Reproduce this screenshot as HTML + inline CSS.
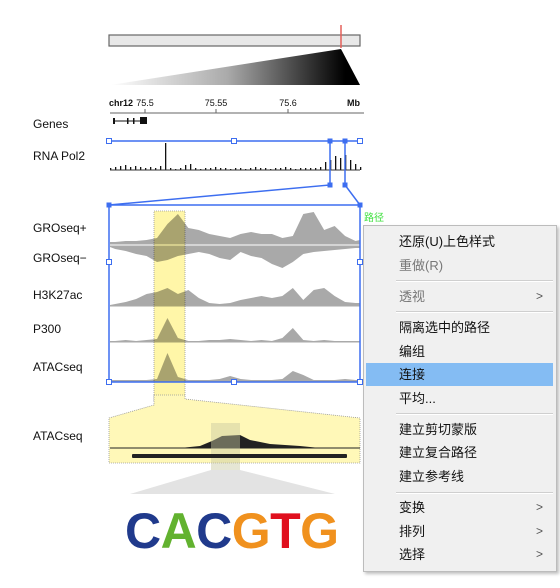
<!DOCTYPE html>
<html><head><meta charset="utf-8"><style>
body{margin:0;width:560px;height:588px;background:#fff;overflow:hidden;position:relative;font-family:"Liberation Sans","Noto Sans CJK SC",sans-serif}
svg{position:absolute;left:0;top:0}
.menu{position:absolute;left:363px;top:225px;width:192px;height:345px;background:#f0f0f0;border:1px solid #bcbcbc;box-shadow:2px 2px 3px rgba(0,0,0,.25);font-size:13px;font-family:"Liberation Sans","Noto Sans CJK SC",sans-serif}
.it{position:absolute;left:0;width:189px;height:23px;line-height:23px;padding-left:35px;box-sizing:border-box;color:#111}
.it.dis{color:#777}
.it.hl{background:#84bcf3;left:2px;width:187px;padding-left:33px}
.sep{position:absolute;left:32px;width:157px;height:1px;background:#cfcfcf;border-bottom:1px solid #fff}
.arr{position:absolute;right:10px;top:0;color:#555;font-size:12px}
</style></head><body>
<svg id="chart" width="560" height="588">
<defs>
<linearGradient id="tri" x1="110" y1="0" x2="345" y2="0" gradientUnits="userSpaceOnUse"><stop offset="0" stop-color="#fff"/><stop offset="0.5" stop-color="#aaa"/><stop offset="1" stop-color="#000"/></linearGradient>
</defs>
<rect x="109" y="35" width="251" height="11" fill="#e8e8e8" stroke="#666" stroke-width="1.2"/>
<line x1="341" y1="25" x2="341" y2="48" stroke="#e4605a" stroke-width="1.5"/>
<polygon points="341,49 110,85 360,85" fill="url(#tri)"/>
<g font-size="9" font-weight="bold" fill="#111">
<text x="109" y="106">chr12</text>
<text x="145" y="106" text-anchor="middle" font-weight="normal">75.5</text>
<text x="216" y="106" text-anchor="middle" font-weight="normal">75.55</text>
<text x="288" y="106" text-anchor="middle" font-weight="normal">75.6</text>
<text x="347" y="106">Mb</text>
<line x1="110" y1="113" x2="364" y2="113" stroke="#666"/>
<line x1="145" y1="109" x2="145" y2="113" stroke="#666"/>
<line x1="216" y1="109" x2="216" y2="113" stroke="#666"/>
<line x1="288" y1="109" x2="288" y2="113" stroke="#666"/>
</g>
<g>
<line x1="114" y1="121" x2="140" y2="121" stroke="#111"/>
<rect x="113" y="118" width="2" height="6" fill="#111"/><rect x="127" y="118" width="1.5" height="6" fill="#111"/><rect x="133" y="118" width="1.5" height="6" fill="#111"/><rect x="140" y="117" width="7" height="7" fill="#111"/>
</g>
<g font-size="12" fill="#111">
<text x="33" y="128">Genes</text><text x="33" y="160">RNA Pol2</text><text x="33" y="232">GROseq+</text><text x="33" y="262">GROseq−</text><text x="33" y="299">H3K27ac</text><text x="33" y="333">P300</text><text x="33" y="371">ATACseq</text><text x="33" y="440">ATACseq</text>
</g>
<g id="tracks"></g>
<rect x="154" y="211" width="31" height="190" fill="#fff6a8" style="mix-blend-mode:multiply" stroke="#999" stroke-dasharray="1,1" stroke-width=".8"/>
<polygon points="154,395 185,395 185,399 360,418 360,463 109,463 109,418 154,405" fill="#fff8b8" stroke="#999" stroke-dasharray="1,1" stroke-width=".8"/>
<line x1="110" y1="448" x2="360" y2="448" stroke="#222" stroke-width="1"/>
<polygon points="180,448 200,446 212,441 222,436 240,435 250,440 270,444 300,446 320,448" fill="#222"/>
<rect x="211" y="423" width="29" height="47" fill="#c8c8a0" fill-opacity=".45"/>
<rect x="132" y="454" width="215" height="4" rx="1" fill="#222"/>
<polygon points="211,470 240,470 335,494 130,494" fill="#e3e3e3"/>
<text x="125" y="548" font-size="50" font-weight="bold" textLength="214"><tspan fill="#203a8c">C</tspan><tspan fill="#62b22f">A</tspan><tspan fill="#203a8c">C</tspan><tspan fill="#f0911e">G</tspan><tspan fill="#e0101e">T</tspan><tspan fill="#f0911e">G</tspan></text>
<g stroke="#3d6ef0" stroke-width="1.5" fill="none">
<polyline points="109,141 330,141 330,185 109,205"/>
<polyline points="330,141 360,141"/>
<polyline points="345,141 345,185 360,205"/>
<rect x="109" y="205" width="251" height="177"/>
</g>
<g fill="#fff" stroke="#3d6ef0" stroke-width="1">
<rect x="106.5" y="138.5" width="5" height="5"/><rect x="231.5" y="138.5" width="5" height="5"/><rect x="357.5" y="138.5" width="5" height="5"/>
<rect x="106.5" y="259.5" width="5" height="5"/><rect x="357.5" y="259.5" width="5" height="5"/>
<rect x="106.5" y="379.5" width="5" height="5"/><rect x="231.5" y="379.5" width="5" height="5"/><rect x="357.5" y="379.5" width="5" height="5"/>
<g fill="#3d6ef0"><rect x="328" y="139" width="4" height="4"/><rect x="343" y="139" width="4" height="4"/><rect x="328" y="183" width="4" height="4"/><rect x="343" y="183" width="4" height="4"/><rect x="107" y="203" width="4" height="4"/><rect x="358" y="203" width="4" height="4"/></g>
</g>
<text x="364" y="221" font-size="10" fill="#3ee03e">路径</text>
</svg>
<div class="menu">
<div class="it" style="top:4px">还原(U)上色样式</div>
<div class="it dis" style="top:28px">重做(R)</div>
<div class="sep" style="top:54px"></div>
<div class="it dis" style="top:59px">透视<span class="arr">&gt;</span></div>
<div class="sep" style="top:85px"></div>
<div class="it" style="top:90px">隔离选中的路径</div>
<div class="it" style="top:114px">编组</div>
<div class="it hl" style="top:137px">连接</div>
<div class="it" style="top:161px">平均...</div>
<div class="sep" style="top:187px"></div>
<div class="it" style="top:192px">建立剪切蒙版</div>
<div class="it" style="top:215px">建立复合路径</div>
<div class="it" style="top:239px">建立参考线</div>
<div class="sep" style="top:266px"></div>
<div class="it" style="top:270px">变换<span class="arr">&gt;</span></div>
<div class="it" style="top:294px">排列<span class="arr">&gt;</span></div>
<div class="it" style="top:317px">选择<span class="arr">&gt;</span></div>
</div>
<script>
const positionsMb = [75.4925,75.4960,75.5030,75.5100,75.5170,75.5240,75.5310,75.5380,75.5450,75.5520,75.5590,75.5660,75.5730,75.5800,75.5870,75.5940,75.6010,75.6080,75.6150,75.6220,75.6290,75.6360,75.6430,75.6500,75.6570,75.6600];
const groPlus = [2,2,3,3,4,6,20,30,16,14,10,8,6,10,12,10,10,6,8,30,32,14,18,8,3,4];
const groMinus = [1,3,5,8,10,16,14,10,8,6,8,12,14,6,10,12,18,22,16,8,6,5,4,3,2,2];
const h3k27ac = [1,2,4,7,12,14,18,12,16,8,3,2,3,6,8,10,8,10,18,6,16,18,10,4,3,3];
const p300 = [1,1,2,1,2,3,24,4,1,1,2,2,3,2,1,2,1,4,14,2,1,2,1,1,1,1];
const atac = [1,1,1,1,1,2,28,4,1,1,1,2,5,2,1,1,1,2,10,6,1,1,1,2,1,1];
const pol2 = [2,3,4,5,3,4,3,2,3,2,4,27,2,1,2,5,6,2,1,2,2,3,2,2,1,2,2,1,2,3,2,2,1,2,2,3,2,1,2,2,2,2,3,8,10,14,12,15,10,6,3];
function xScale(mb){return 110+(mb-75.4925)/(75.66-75.4925)*250;}
const NS='http://www.w3.org/2000/svg';
const g=document.getElementById('tracks');
function area(vals,base,dir,name,fill){
  const p=document.createElementNS(NS,'polygon');
  let pts=[xScale(positionsMb[0])+','+base];
  vals.forEach((v,i)=>pts.push(xScale(positionsMb[i])+','+(base-dir*v)));
  pts.push(xScale(positionsMb[positionsMb.length-1])+','+base);
  p.setAttribute('points',pts.join(' '));
  p.setAttribute('fill',fill);
  
  
  g.appendChild(p);
  const l=document.createElementNS(NS,'line');
  l.setAttribute('x1',110);l.setAttribute('x2',360);l.setAttribute('y1',base);l.setAttribute('y2',base);
  l.setAttribute('stroke','#aaa');
  
  
  g.appendChild(l);
}
area(groPlus,244,1,'groseq-plus-track','#a9a9a9');
area(groMinus,246,-1,'groseq-minus-track','#a9a9a9');
area(h3k27ac,306,1,'h3k27ac-track','#a9a9a9');
area(p300,342,1,'p300-track','#a9a9a9');
area(atac,381,1,'atacseq-track','#a9a9a9');
pol2.forEach((v,i)=>{
  const x=110+i*5;
  const r=document.createElementNS(NS,'rect');
  r.setAttribute('x',x);r.setAttribute('y',170-v);r.setAttribute('width',1.3);r.setAttribute('height',v);r.setAttribute('fill','#111');
  
  
  g.appendChild(r);
});
const bl=document.createElementNS(NS,'line');
bl.setAttribute('x1',110);bl.setAttribute('x2',360);bl.setAttribute('y1',170);bl.setAttribute('y2',170);bl.setAttribute('stroke','#333');


g.appendChild(bl);
</script>
</body></html>
